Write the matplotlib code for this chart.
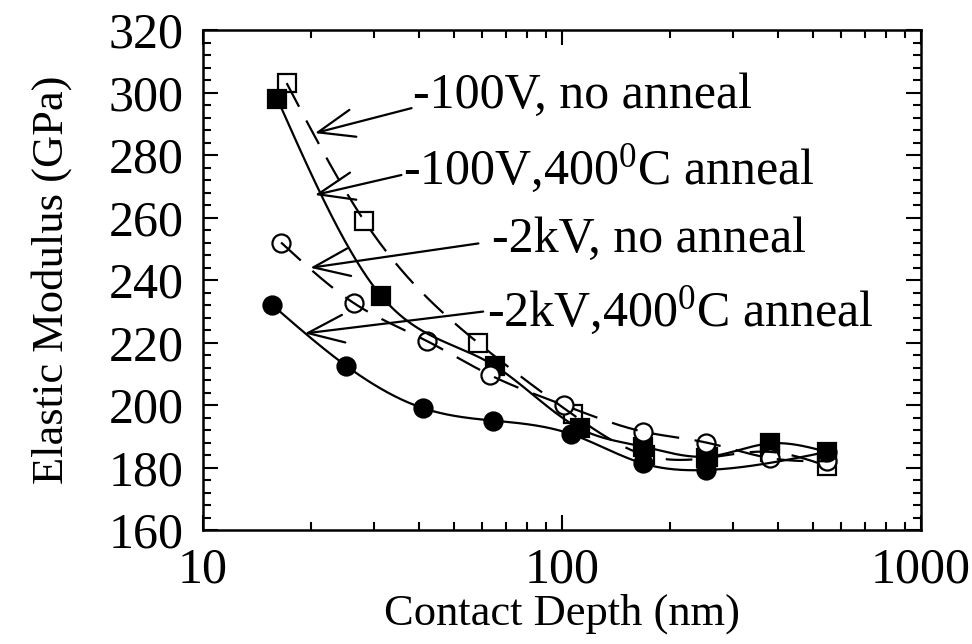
import numpy as np
import matplotlib
matplotlib.use('Agg')
import matplotlib.pyplot as plt
from matplotlib.ticker import MultipleLocator, FixedLocator, NullFormatter

plt.rcParams['font.family'] = ['Liberation Serif', 'DejaVu Serif']
plt.rcParams['mathtext.fontset'] = 'custom'
plt.rcParams['mathtext.rm'] = 'Liberation Serif'
plt.rcParams['mathtext.it'] = 'Liberation Serif:italic'

# -100V, no anneal (open squares, dashed)
sq_open_x = [17.1, 28.1, 58.2, 107, 170, 252, 380, 547]
sq_open_y = [303, 259, 220, 197, 184, 183, 185, 180.5]
# -100V, 400C anneal (filled squares, solid)
sq_fill_x = [16.1, 31.3, 65, 112, 168, 255, 380, 547]
sq_fill_y = [298, 235, 212.5, 192.5, 186.7, 183.5, 187.7, 185]
# -2kV, no anneal (open circles, dashed)
ci_open_x = [16.5, 26.4, 42, 63, 101, 168, 252, 380, 547]
ci_open_y = [252, 232.5, 220.5, 209.6, 200, 191.5, 188, 183, 182]
# -2kV, 400C anneal (filled circles, solid)
ci_fill_x = [15.6, 25, 41, 64.4, 106, 168, 252, 547]
ci_fill_y = [232, 212.6, 199, 195, 190.7, 181.3, 179.2, 185]

labels = ["-100V, no anneal", "-100V,400$^{0}$C anneal",
          "-2kV, no anneal", "-2kV,400$^{0}$C anneal"]
label_pos = [(38.4, 299), (36.0, 275.5), (63.8, 253), (61.8, 230)]
arrow_tail = [(38.1, 295), (35.7, 273.6), (58.5, 251.7), (60.3, 229.9)]
arrow_tip = [(20.5, 287), (20.5, 267.2), (19.9, 243.9), (19.2, 222.9)]

x_ticks = [10, 100, 1000]
x_tick_labels = ["10", "100", "1000"]


def spline(x, y, n=400):
    x = np.log10(np.asarray(x, float))
    y = np.asarray(y, float)
    m = len(x)
    h = np.diff(x)
    A = np.zeros((m, m))
    r = np.zeros(m)
    A[0, 0] = 1
    A[-1, -1] = 1
    for i in range(1, m - 1):
        A[i, i - 1] = h[i - 1]
        A[i, i] = 2 * (h[i - 1] + h[i])
        A[i, i + 1] = h[i]
        r[i] = 3 * ((y[i + 1] - y[i]) / h[i] - (y[i] - y[i - 1]) / h[i - 1])
    c = np.linalg.solve(A, r)
    b = (y[1:] - y[:-1]) / h - h * (2 * c[:-1] + c[1:]) / 3
    d = (c[1:] - c[:-1]) / (3 * h)
    xs = np.linspace(x[0], x[-1], n)
    idx = np.clip(np.searchsorted(x, xs) - 1, 0, m - 2)
    dx = xs - x[idx]
    ys = y[idx] + b[idx] * dx + c[idx] * dx ** 2 + d[idx] * dx ** 3
    return 10 ** xs, ys


fig = plt.figure(figsize=(9.72, 6.44), dpi=100)
ax = fig.add_axes([203 / 972, 1 - 530 / 644, (921 - 203) / 972, 500 / 644])

lw = 1.6
dash = (12, 7)
series = [
    (sq_open_x, sq_open_y, 's', 'white', True),
    (sq_fill_x, sq_fill_y, 's', 'black', False),
    (ci_open_x, ci_open_y, 'o', 'white', True),
    (ci_fill_x, ci_fill_y, 'o', 'black', False),
]
for xs, ys, mk, fc, dashed in series:
    cx, cy = spline(xs, ys)
    if dashed:
        ax.plot(cx, cy, color='black', lw=lw, dashes=dash, zorder=3)
    else:
        ax.plot(cx, cy, color='black', lw=lw, zorder=3)
    ax.plot(xs, ys, linestyle='none', marker=mk,
            markersize=12.5 if mk == 's' else 13,
            markerfacecolor=fc, markeredgecolor='black', markeredgewidth=1.6,
            zorder=2)

for lab, pos, tail, tip in zip(labels, label_pos, arrow_tail, arrow_tip):
    ax.text(pos[0], pos[1], lab, fontsize=36, ha='left', va='center', zorder=4)
    ax.annotate('', xy=tip, xytext=tail,
                arrowprops=dict(arrowstyle='->,head_length=1.3,head_width=0.5',
                                lw=1.6, color='black', shrinkA=0, shrinkB=0,
                                mutation_scale=20), zorder=4)

ax.set_xscale('log')
ax.set_xlim(10, 1000)
ax.set_ylim(160, 320)
ax.xaxis.set_major_locator(FixedLocator(x_ticks))
ax.set_xticklabels(x_tick_labels)
ax.xaxis.set_minor_locator(FixedLocator([k * 10 ** e for e in (1, 2) for k in range(2, 10)]))
ax.xaxis.set_minor_formatter(NullFormatter())
ax.yaxis.set_major_locator(MultipleLocator(20))
ax.yaxis.set_minor_locator(MultipleLocator(4))

ax.tick_params(which='both', direction='in', top=True, right=True, width=1.5,
               labelsize=36)
ax.tick_params(which='major', length=11)
ax.tick_params(which='minor', length=6)
ax.tick_params(axis='y', pad=14)
ax.tick_params(axis='x', pad=12)
for s in ax.spines.values():
    s.set_linewidth(1.8)

ax.set_xlabel('Contact Depth (nm)', fontsize=32, labelpad=0)
ax.set_ylabel('Elastic Modulus (GPa)', fontsize=32, labelpad=26)

fig.savefig('out.png', dpi=100)
